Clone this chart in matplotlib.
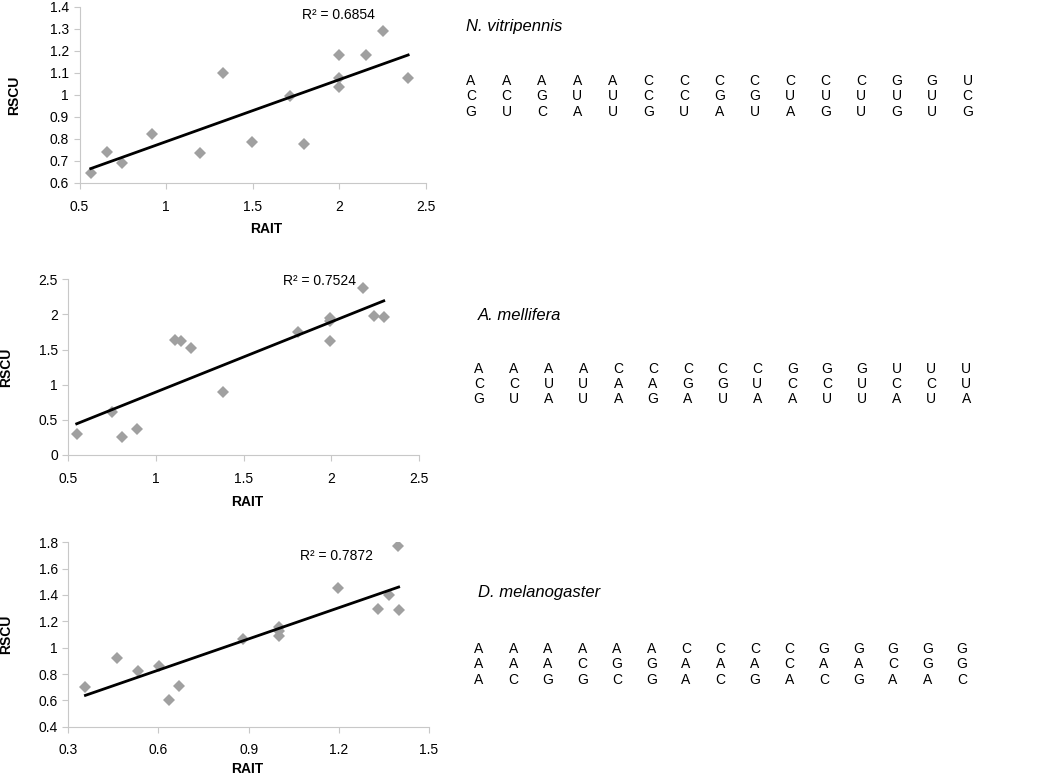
import matplotlib
matplotlib.use("Agg")
import matplotlib.pyplot as plt
import numpy as np

plt.rcParams['font.family'] = ['Liberation Sans', 'DejaVu Sans']

# RAIT / RSCU pairs
nv_rait = [0.565, 0.66, 0.744, 0.919, 1.197, 1.328, 1.495, 1.713, 1.794, 2.0, 2.0, 2.0, 2.154, 2.25, 2.397]
nv_rscu = [0.644, 0.74, 0.692, 0.821, 0.735, 1.099, 0.788, 0.997, 0.777, 1.183, 1.076, 1.037, 1.183, 1.29, 1.076]

am_rait = [0.548, 0.75, 0.804, 0.889, 1.111, 1.145, 1.197, 1.382, 1.811, 1.995, 1.995, 1.995, 2.181, 2.244, 2.299]
am_rscu = [0.30, 0.61, 0.262, 0.367, 1.638, 1.629, 1.524, 0.90, 1.757, 1.943, 1.91, 1.624, 2.376, 1.976, 1.957]

dm_rait = [0.357, 0.461, 0.532, 0.603, 0.634, 0.668, 0.882, 1.0, 1.0, 1.0, 1.198, 1.33, 1.366, 1.397, 1.399]
dm_rscu = [0.704, 0.919, 0.820, 0.863, 0.603, 0.711, 1.063, 1.159, 1.125, 1.089, 1.453, 1.294, 1.397, 1.772, 1.284]

r2_labels = ['R² = 0.6854', 'R² = 0.7524', 'R² = 0.7872']
especies = ['N. vitripennis', 'A. mellifera', 'D. melanogaster']

# codons listados em colunas
codons_nv = ['ACG', 'ACU', 'AGC', 'AUA', 'AUU', 'CCG', 'CCU', 'CGA', 'CGU', 'CUA',
             'CUG', 'CUU', 'GUG', 'GUU', 'UCG']
codons_am = ['ACG', 'ACU', 'AUA', 'AUU', 'CAA', 'CAG', 'CGA', 'CGU', 'CUA', 'GCA',
             'GCU', 'GUU', 'UCA', 'UCU', 'UUA']
codons_dm = ['AAA', 'AAC', 'AAG', 'ACG', 'AGC', 'AGG', 'CAA', 'CAC', 'CAG', 'CCA',
             'GAC', 'GAG', 'GCA', 'GGA', 'GGC']

W, H = 1050, 781
fig = plt.figure(figsize=(W / 100, H / 100), dpi=100)


def px_axes(left, top, right, bottom):
    return fig.add_axes([left / W, 1 - bottom / H, (right - left) / W, (bottom - top) / H])


def painel(ax, x, y, xlim, ylim, xticks, yticks, r2, r2_pos, ylab_x, xlab_pos):
    x = np.array(x)
    y = np.array(y)
    ax.plot(x, y, linestyle='none', marker='D', markersize=6,
            color='#a0a0a0', markeredgewidth=0)
    coef = np.polyfit(x, y, 1)
    xs = np.array([x.min(), x.max()])
    ax.plot(xs, np.polyval(coef, xs), color='black', linewidth=2)
    ax.set_xlim(xlim)
    ax.set_ylim(ylim)
    ax.set_xticks(xticks)
    ax.set_yticks(yticks)
    ax.set_xticklabels([f'{t:g}' for t in xticks])
    ax.set_yticklabels([f'{t:g}' for t in yticks])
    for s in ['top', 'right']:
        ax.spines[s].set_visible(False)
    for s in ['left', 'bottom']:
        ax.spines[s].set_color('#c8c8c8')
    ax.tick_params(colors='#c8c8c8', labelcolor='black', labelsize=10, length=4)
    ax.tick_params(axis='x', pad=8)
    ax.set_ylabel('RSCU', fontsize=10, fontweight='bold')
    ax.set_xlabel('RAIT', fontsize=10, fontweight='bold')
    ax.yaxis.set_label_coords(ylab_x, 0.5)
    ax.xaxis.set_label_coords(*xlab_pos)
    ax.text(r2_pos[0], r2_pos[1], r2, fontsize=10, ha='left', va='center')
    ax.patch.set_alpha(0)


ax1 = px_axes(79.5, 7, 426, 183)
painel(ax1, nv_rait, nv_rscu, (0.5, 2.5), (0.6, 1.4), [0.5, 1, 1.5, 2, 2.5],
       [0.6, 0.7, 0.8, 0.9, 1, 1.1, 1.2, 1.3, 1.4], r2_labels[0], (1.786, 1.364),
       -0.169, (0.54, -0.222))

ax2 = px_axes(68.3, 279.3, 419, 455)
painel(ax2, am_rait, am_rscu, (0.5, 2.5), (0, 2.5), [0.5, 1, 1.5, 2, 2.5],
       [0, 0.5, 1, 1.5, 2, 2.5], r2_labels[1], (1.722, 2.47),
       -0.158, (0.51, -0.228))

ax3 = px_axes(68.3, 542.3, 429, 726.7)
painel(ax3, dm_rait, dm_rscu, (0.3, 1.5), (0.4, 1.8), [0.3, 0.6, 0.9, 1.2, 1.5],
       [0.4, 0.6, 0.8, 1, 1.2, 1.4, 1.6, 1.8], r2_labels[2], (1.072, 1.693),
       -0.153, (0.495, -0.191))

# Tabelas de codons à direita
blocos = [
    (especies[0], codons_nv, 466, 27, 471, 35.46, [81, 96.5, 112]),
    (especies[1], codons_am, 478, 316, 479, 34.8, [369, 384, 399]),
    (especies[2], codons_dm, 478, 593, 479, 34.5, [649, 664.5, 680]),
]
for nome, codons, tx, ty, cx, dx, linhas in blocos:
    fig.text(tx / W, 1 - ty / H, nome, fontsize=12, style='italic', ha='left', va='center')
    for i, cod in enumerate(codons):
        for j, base in enumerate(cod):
            fig.text((cx + i * dx) / W, 1 - linhas[j] / H, base, fontsize=10,
                     ha='center', va='center')

fig.savefig('out.png', dpi=100)
